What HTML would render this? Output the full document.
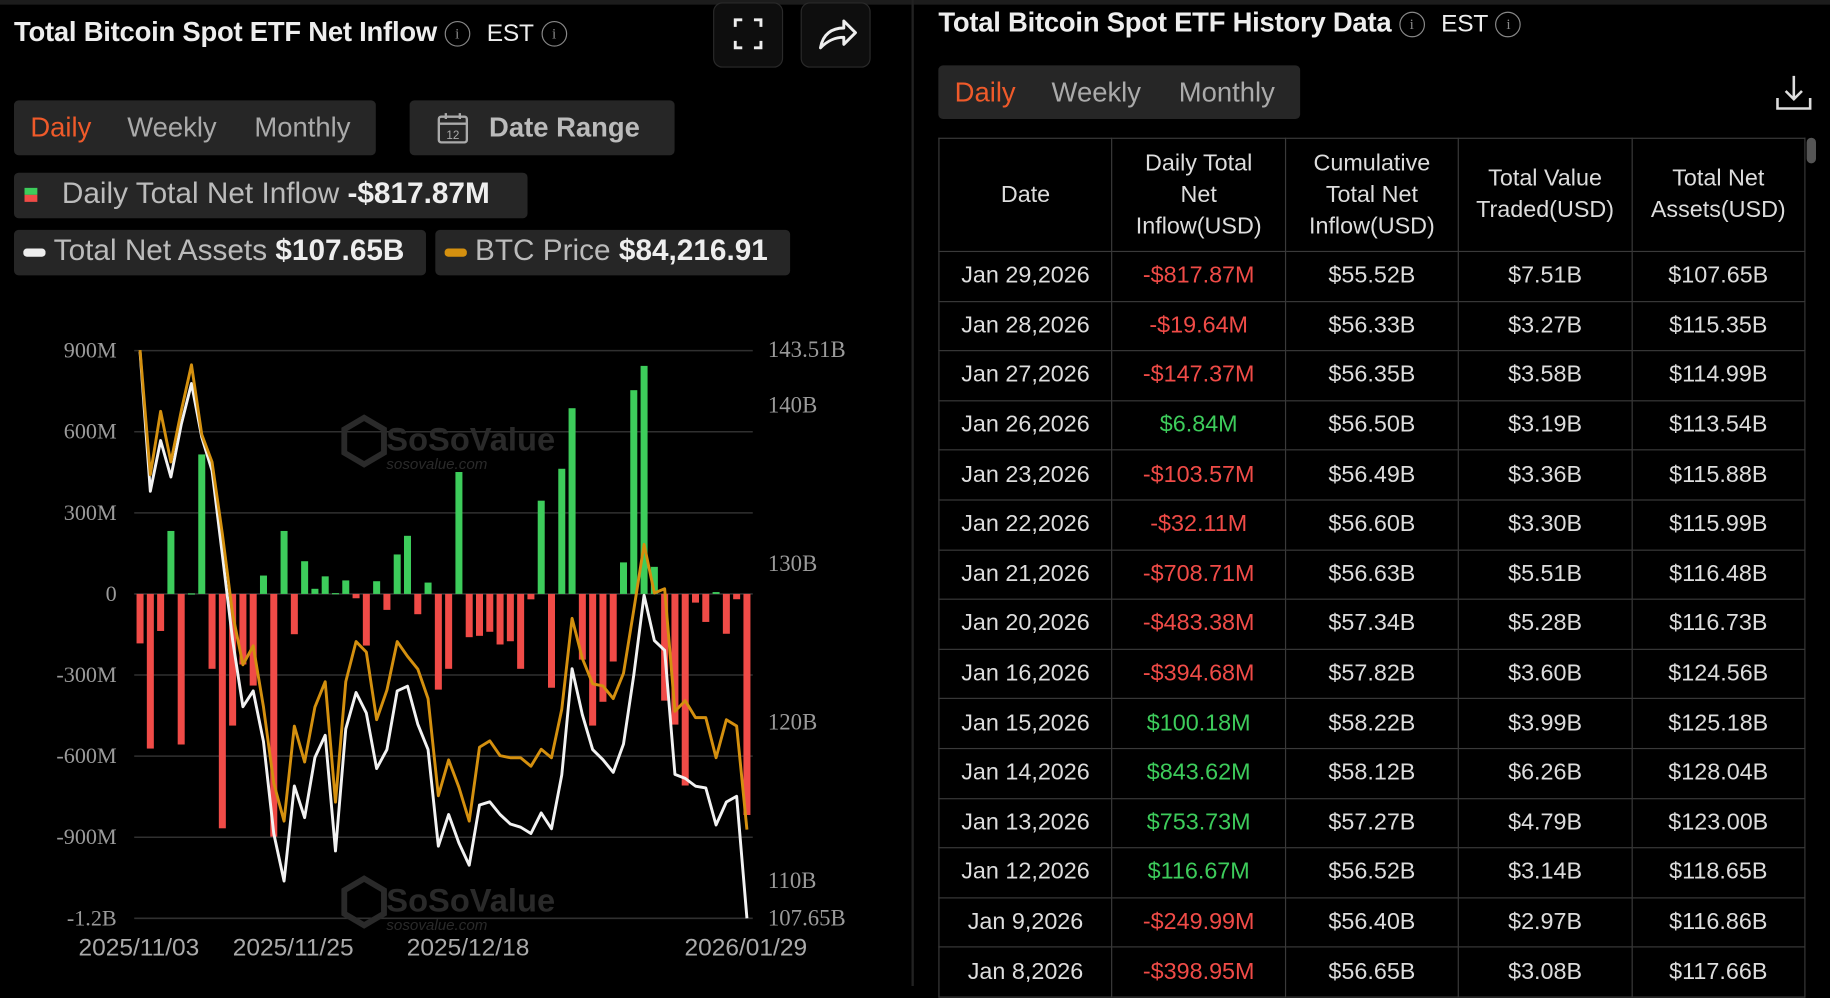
<!DOCTYPE html>
<html><head><meta charset="utf-8"><style>
html,body{margin:0;padding:0;background:#000;overflow:hidden;width:1830px;height:986px}
#root{position:absolute;left:0;top:0;width:1568px;height:845px;transform:scale(1.16709,1.16686);transform-origin:0 0;background:#000;font-family:"Liberation Sans",sans-serif;color:#ddd}
.abs{position:absolute}
.pill{position:absolute;background:#262626;border-radius:4px}
.tab{position:absolute;font-size:23.5px;color:#aaa;top:10px}
.title{font-size:23.5px;font-weight:bold;color:#eee;letter-spacing:-0.2px}
.info{display:inline-block;width:20px;height:20px;border:1.5px solid #888;border-radius:50%;font-size:13px;line-height:20px;text-align:center;color:#888;vertical-align:middle;font-family:"Liberation Serif",serif;font-weight:normal}
table{border-collapse:collapse;position:absolute;left:804px;top:118px;width:743px;table-layout:fixed}
td,th{border:1.5px solid #3a3a3a;text-align:center;font-weight:normal;font-size:20px;color:#ddd;padding:0}
th{height:96px;line-height:27px;color:#ddd}
td{height:41.6px}
.r{color:#f04b47}.g{color:#3dcc5b}
.leg{position:absolute;top:4px;font-size:25.5px;color:#bbb;white-space:nowrap}
</style></head><body>
<div id="root">
<div class="abs" style="left:0;top:0;width:1568px;height:4px;background:#1c1c1c"></div>
<div class="abs title" style="left:12px;top:14px">Total Bitcoin Spot ETF Net Inflow <span class="info">i</span> <span style="font-weight:normal;font-size:21px;margin-left:8px">EST</span> <span class="info">i</span></div>
<div class="abs" style="left:611px;top:2px;width:58px;height:54px;border:1.5px solid #2a2a2a;border-radius:8px;background:#0e0e0e">
<svg width="58" height="54"><path d="M18 20v-6h6M34 14h6v6M40 32v6h-6M24 38h-6v-6" stroke="#eee" stroke-width="2.5" fill="none"/></svg></div>
<div class="abs" style="left:686px;top:2px;width:58px;height:54px;border:1.5px solid #2a2a2a;border-radius:8px;background:#0e0e0e">
<svg width="58" height="54"><path d="M16 38c2-12 10-17 20-17v-6l10 10-10 10v-6c-8 0-14 3-20 9z" stroke="#eee" stroke-width="2.5" fill="none" stroke-linejoin="round"/></svg></div>
<div class="pill" style="left:12px;top:86px;width:310px;height:47px">
<span class="tab" style="left:14px;color:#ef5a2a">Daily</span>
<span class="tab" style="left:97px">Weekly</span>
<span class="tab" style="left:206px">Monthly</span></div>
<div class="pill" style="left:351px;top:86px;width:227px;height:47px">
<svg class="abs" style="left:22px;top:9px" width="30" height="30"><rect x="3" y="5" width="24" height="22" rx="2" stroke="#aaa" stroke-width="2" fill="none"/><line x1="3" y1="11" x2="27" y2="11" stroke="#aaa" stroke-width="2"/><line x1="9" y1="2" x2="9" y2="7" stroke="#aaa" stroke-width="2"/><line x1="21" y1="2" x2="21" y2="7" stroke="#aaa" stroke-width="2"/><text x="15" y="24" font-size="10" fill="#aaa" text-anchor="middle" font-family="Liberation Sans">12</text></svg>
<span class="tab" style="left:68px;font-weight:bold;color:#bbb">Date Range</span></div>
<div class="pill" style="left:12px;top:148px;width:440px;height:39px">
<div class="abs" style="left:9px;top:13px;width:11px;height:6px;background:#3dcc5b"></div><div class="abs" style="left:9px;top:19px;width:11px;height:6px;background:#f04b47"></div>
<span class="leg" style="left:41px">Daily Total Net Inflow <b style="color:#eee">-$817.87M</b></span></div>
<div class="pill" style="left:12px;top:197px;width:353px;height:39px">
<div class="abs" style="left:8px;top:16px;width:19px;height:7px;border-radius:3px;background:#eee"></div>
<span class="leg" style="left:34px">Total Net Assets <b style="color:#eee">$107.65B</b></span></div>
<div class="pill" style="left:373px;top:197px;width:304px;height:39px">
<div class="abs" style="left:8px;top:16px;width:19px;height:7px;border-radius:3px;background:#d4900f"></div>
<span class="leg" style="left:34px">BTC Price <b style="color:#eee">$84,216.91</b></span></div>

<svg id="chart" class="abs" style="left:0;top:0" width="780" height="845"></svg>
<div class="abs" style="left:781px;top:0;width:2px;height:845px;background:#222"></div>

<div class="abs title" style="left:804px;top:6px">Total Bitcoin Spot ETF History Data <span class="info">i</span> <span style="font-weight:normal;font-size:21px;margin-left:8px">EST</span> <span class="info">i</span></div>
<div class="pill" style="left:804px;top:56px;width:310px;height:46px">
<span class="tab" style="left:14px;color:#ef5a2a">Daily</span>
<span class="tab" style="left:97px">Weekly</span>
<span class="tab" style="left:206px">Monthly</span></div>
<svg class="abs" style="left:1520px;top:62px" width="34" height="34"><path d="M17 3v20M10 16l7 7 7-7M3 22v9h28v-9" stroke="#ddd" stroke-width="2.2" fill="none"/></svg>
<table>
<tr><th>Date</th><th>Daily Total<br>Net<br>Inflow(USD)</th><th>Cumulative<br>Total Net<br>Inflow(USD)</th><th>Total Value<br>Traded(USD)</th><th>Total Net<br>Assets(USD)</th></tr>
<tbody id="tb"></tbody></table>
<div class="abs" style="left:1547px;top:118px;width:12px;height:727px;background:#000"></div>
<div class="abs" style="left:1548px;top:118px;width:8px;height:22px;border-radius:4px;background:#555"></div>
</div>
<script>
const categories=["2025/11/03","","","","","","","","","","","","","","","2025/11/25","","","","","","","","","","","","","","","","","2025/12/18","","","","","","","","","","","","","","","","","","","","","","","","","","","2026/01/29"];
const netInflow=[-183,-572,-137,233,-557,2,516,-277,-867,-487,-261,-339,68,-898,233,-149,121,19,65,3,50,-16,-191,47,-59,146,215,-75,42,-354,-277,451,-160,-155,-140,-187,-175,-277,-20,345,-347,463,687,-243,-487,-398.95,-249.99,116.67,753.73,843.62,100.18,-394.68,-483.38,-708.71,-32.11,-103.57,6.84,-147.37,-19.64,-817.87];
const totalAssets=[143.4,134.6,137.8,135.5,138.8,141.4,138.0,135.9,130.6,125.2,121.0,122.0,118.8,113.0,110.0,116.0,114.0,117.8,119.2,111.9,119.6,121.9,120.6,117.1,118.3,122.0,122.3,119.9,118.3,112.2,114.2,112.4,111.0,114.8,115.0,114.2,113.6,113.4,113.0,114.3,113.3,116.7,123.4,120.5,118.3,117.66,116.86,118.65,123.00,128.04,125.18,124.56,116.73,116.48,115.99,115.88,113.54,114.99,115.35,107.65];
const btcPrice=[107000,101079,104090,101681,104090,106298,102986,101681,98270,94456,92048,92951,90041,86428,84622,89138,87432,90041,91245,85525,91245,93152,92650,89439,90844,93152,92449,91847,90442,85826,87532,86228,84622,88134,88435,87733,87632,87632,87231,88034,87632,89940,94256,92349,91145,91044,90442,91646,94657,97768,95460,95660,89840,90342,89539,89539,87632,89439,89138,84217];
const leftTicks=[900,600,300,0,-300,-600,-900,-1200];
const leftTickLabels=["900M","600M","300M","0","-300M","-600M","-900M","-1.2B"];
const rightTicks=[143.51,140,130,120,110,107.65];
const rightTickLabels=["143.51B","140B","130B","120B","110B","107.65B"];
const NS="http://www.w3.org/2000/svg";
const svg=document.getElementById('chart');
const x=i=>120+i*(520/(categories.length-1));
const yL=v=>509-v/300*69.5;
const yR=b=>300+(143.51-b)*13.58;
const yP=p=>300+(107000-p)/22783*411;
function mk(t,a){const e=document.createElementNS(NS,t);for(const k in a)e.setAttribute(k,a[k]);svg.appendChild(e);return e;}
leftTicks.forEach((v,i)=>{
 const l=mk('line',{x1:115,x2:645,y1:yL(v),y2:yL(v),stroke:'#303030','stroke-width':1.3});
 
 
 const t=mk('text',{x:100,y:yL(v)+6,'text-anchor':'end',fill:'#9a9a9a','font-size':19,'font-family':'Liberation Serif'});
 t.textContent=leftTickLabels[i];
 
 
});
rightTicks.forEach((v,i)=>{
 const t=mk('text',{x:658,y:yR(v)+6,fill:'#9a9a9a','font-size':19.5,'font-family':'Liberation Serif'});
 t.textContent=rightTickLabels[i];
 
 
});
[["SoSoValue",295,370],["SoSoValue",295,765]].forEach(w=>{
 const lg0=mk('path',{d:`M${w[1]+17} ${w[2]-12} l17 10 v20 l-17 10 l-17 -10 v-20 z`,fill:'none',stroke:'#2a2a2a','stroke-width':5});
 
 
 const g=mk('text',{x:w[1]+36,y:w[2]+16,fill:'#2a2a2a','font-size':28,'font-weight':'bold','font-family':'Liberation Sans'});
 g.textContent=w[0];
 
 
 const s=mk('text',{x:w[1]+36,y:w[2]+32,fill:'#2a2a2a','font-size':13,'font-style':'italic','font-family':'Liberation Sans'});
 s.textContent='sosovalue.com';
 
 
});
netInflow.forEach((v,i)=>{
 const y0=yL(0),y1=yL(v);
 const r=mk('rect',{x:x(i)-3,y:Math.min(y0,y1),width:6,height:Math.max(1,Math.abs(y1-y0)),fill:v>=0?'#3dcc5b':'#f04b47'});
 
 
});
const pw=totalAssets.map((v,i)=>x(i)+','+yR(v)).join(' ');
const lw=mk('polyline',{points:pw,fill:'none',stroke:'#f2f2f2','stroke-width':2.5,'stroke-linejoin':'round'});


const pg=btcPrice.map((v,i)=>x(i)+','+yP(v)).join(' ');
const lg=mk('polyline',{points:pg,fill:'none',stroke:'#d4900f','stroke-width':2.5,'stroke-linejoin':'round'});


categories.forEach((c,i)=>{if(!c)return;
 const t=mk('text',{x:x(i)-1,y:819,'text-anchor':'middle',fill:'#aaa','font-size':21,'font-family':'Liberation Sans'});
 t.textContent=c;
 
 
});
const rows=[["Jan 29,2026","-$817.87M","$55.52B","$7.51B","$107.65B"],["Jan 28,2026","-$19.64M","$56.33B","$3.27B","$115.35B"],["Jan 27,2026","-$147.37M","$56.35B","$3.58B","$114.99B"],["Jan 26,2026","$6.84M","$56.50B","$3.19B","$113.54B"],["Jan 23,2026","-$103.57M","$56.49B","$3.36B","$115.88B"],["Jan 22,2026","-$32.11M","$56.60B","$3.30B","$115.99B"],["Jan 21,2026","-$708.71M","$56.63B","$5.51B","$116.48B"],["Jan 20,2026","-$483.38M","$57.34B","$5.28B","$116.73B"],["Jan 16,2026","-$394.68M","$57.82B","$3.60B","$124.56B"],["Jan 15,2026","$100.18M","$58.22B","$3.99B","$125.18B"],["Jan 14,2026","$843.62M","$58.12B","$6.26B","$128.04B"],["Jan 13,2026","$753.73M","$57.27B","$4.79B","$123.00B"],["Jan 12,2026","$116.67M","$56.52B","$3.14B","$118.65B"],["Jan 9,2026","-$249.99M","$56.40B","$2.97B","$116.86B"],["Jan 8,2026","-$398.95M","$56.65B","$3.08B","$117.66B"]];
const tb=document.getElementById('tb');
rows.forEach(r=>{const tr=document.createElement('tr');
 
 
 r.forEach((c,j)=>{const td=document.createElement('td');td.textContent=c;if(j==1)td.className=c[0]=='-'?'r':'g';tr.appendChild(td);});
 tb.appendChild(tr);});
</script>
</body></html>
